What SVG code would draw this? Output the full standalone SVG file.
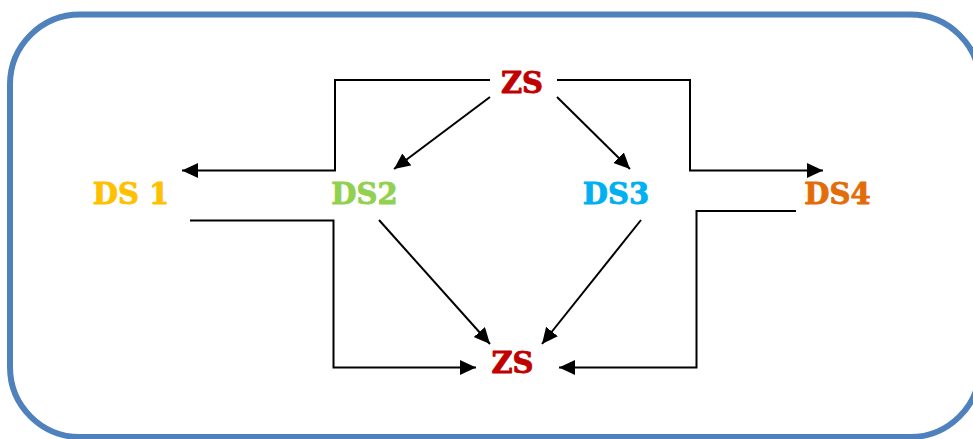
<svg xmlns="http://www.w3.org/2000/svg" width="973" height="439" viewBox="0 0 973 439">
  <style>
    .label { font-family: "DejaVu Serif", "Liberation Serif", serif; font-weight: bold; font-size: 29px; text-anchor: middle; stroke-width: 0.9; stroke-linejoin: round; }
    .wire { fill: none; stroke: #000; stroke-width: 2; marker-end: url(#arrow); }
  </style>
  <defs>
    <marker id="arrow" markerUnits="userSpaceOnUse" markerWidth="17" markerHeight="16" refX="16" refY="7.5" orient="auto">
      <path d="M0,0 L16,7.5 L0,15 z" fill="#000"/>
    </marker>
  </defs>

  <!-- outer frame -->
  <rect x="10" y="14.5" width="970" height="422.5" rx="70" ry="70" fill="#fff" stroke="#4F81BD" stroke-width="6"/>

  <g id="connectors">
    <!-- top ZS to the outer DS nodes -->
    <polyline class="wire" points="490,80 335,80 335,170.5 182,170.5"/>
    <polyline class="wire" points="557,80 690,80 690,170.5 823,170.5"/>
    <!-- top ZS to the inner DS nodes -->
    <line class="wire" x1="490" y1="97" x2="394" y2="169"/>
    <line class="wire" x1="557" y1="97" x2="630" y2="169"/>
    <!-- inner DS nodes to bottom ZS -->
    <line class="wire" x1="379" y1="220" x2="490" y2="344"/>
    <line class="wire" x1="641" y1="220" x2="542" y2="344"/>
    <!-- outer DS nodes to bottom ZS -->
    <polyline class="wire" points="190,220.5 333.5,220.5 333.5,367.5 476,367.5"/>
    <polyline class="wire" points="796,211 696.5,211 696.5,367.5 559,367.5"/>
  </g>

  <g id="zs-top"><text class="label" x="522" y="93" fill="#C00000" stroke="#C00000">ZS</text></g>
  <g id="ds1"><text class="label" x="131" y="204" fill="#FFC000" stroke="#FFC000">DS 1</text></g>
  <g id="ds2"><text class="label" x="364.5" y="204" fill="#92D050" stroke="#92D050">DS2</text></g>
  <g id="ds3"><text class="label" x="616" y="204" fill="#00B0F0" stroke="#00B0F0">DS3</text></g>
  <g id="ds4"><text class="label" x="837.5" y="204" fill="#E36C09" stroke="#E36C09">DS4</text></g>
  <g id="zs-bottom"><text class="label" x="512.5" y="373" fill="#C00000" stroke="#C00000">ZS</text></g>
</svg>
